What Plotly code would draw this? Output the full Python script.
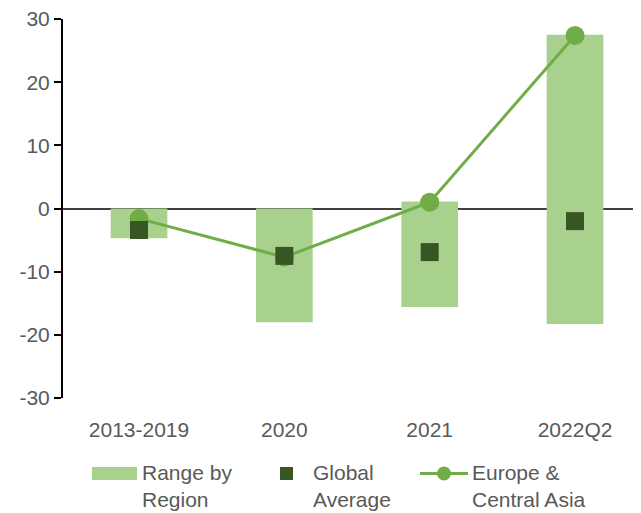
import plotly.graph_objects as go

categories = ["2013-2019", "2020", "2021", "2022Q2"]
range_low = [-4.7, -18.0, -15.6, -18.3]
range_high = [0.0, 0.0, 1.1, 27.5]
global_avg = [-3.4, -7.5, -6.9, -2.0]
europe_ca = [-1.6, -7.7, 1.0, 27.4]
y_ticks = [-30, -20, -10, 0, 10, 20, 30]

font_family = "Liberation Sans, Arial, sans-serif"
grey = "#595959"
bar_col = "#A9D18E"
avg_col = "#375623"
line_col = "#70AD47"

fig = go.Figure()

fig.add_trace(go.Bar(
    x=categories,
    y=[h - l for h, l in zip(range_high, range_low)],
    base=range_low,
    name="Range by Region",
    marker=dict(color=bar_col, line=dict(width=0)),
    width=0.39,
))

fig.add_trace(go.Scatter(
    x=categories,
    y=europe_ca,
    mode="lines+markers",
    name="Europe & Central Asia",
    line=dict(color=line_col, width=3),
    marker=dict(color=line_col, size=19, symbol="circle"),
))

fig.add_trace(go.Scatter(
    x=categories,
    y=global_avg,
    mode="markers",
    name="Global Average",
    marker=dict(color=avg_col, size=18, symbol="square"),
))

# plot area in page pixels: x 63..649, y 19..398 (page has 8px body offset)
def px(wx):
    return (wx - 63) / 586

def py(wy):
    return (398 - wy) / 379

# manual legend below the plot
fig.add_shape(type="rect", xref="paper", yref="paper",
              x0=px(92), x1=px(137), y0=py(480), y1=py(467),
              fillcolor=bar_col, line=dict(width=0))
fig.add_shape(type="rect", xref="paper", yref="paper",
              x0=px(280), x1=px(293), y0=py(480), y1=py(467),
              fillcolor=avg_col, line=dict(width=0))
fig.add_shape(type="line", xref="paper", yref="paper",
              x0=px(420), x1=px(468), y0=py(473.5), y1=py(473.5),
              line=dict(color=line_col, width=3))
fig.add_shape(type="circle", xref="paper", yref="paper",
              x0=px(437), x1=px(451), y0=py(480.5), y1=py(466.5),
              fillcolor=line_col, line=dict(width=0))

legend_text = [("Range by<br>Region", 141), ("Global<br>Average", 312), ("Europe &<br>Central Asia", 471)]
for txt, wx in legend_text:
    fig.add_annotation(text=txt, xref="paper", yref="paper",
                       x=px(wx), y=py(460), xanchor="left", yanchor="top",
                       align="left", showarrow=False, borderpad=0,
                       font=dict(size=21, color=grey, family=font_family))

fig.update_layout(
    width=641,
    height=513,
    margin=dict(l=55, r=0, t=11, b=123),
    plot_bgcolor="white",
    paper_bgcolor="white",
    font=dict(family=font_family, size=21, color=grey),
    showlegend=False,
)

fig.update_xaxes(
    range=[-0.523, 3.509],
    showgrid=False,
    showline=False,
    ticks="",
    tickfont=dict(size=21, color=grey),
    ticklabelstandoff=17,
    automargin=False,
)

fig.update_yaxes(
    range=[-30, 30],
    tickvals=y_ticks,
    ticktext=[str(v) for v in y_ticks],
    showgrid=False,
    showline=True,
    linecolor="black",
    linewidth=2,
    ticks="outside",
    ticklen=7,
    tickwidth=2,
    tickcolor="black",
    tickfont=dict(size=21, color=grey),
    ticklabeloverflow="allow",
    zeroline=True,
    zerolinecolor="#404040",
    zerolinewidth=1.5,
    layer="above traces",
    automargin=False,
)

fig.write_html("out.html")
